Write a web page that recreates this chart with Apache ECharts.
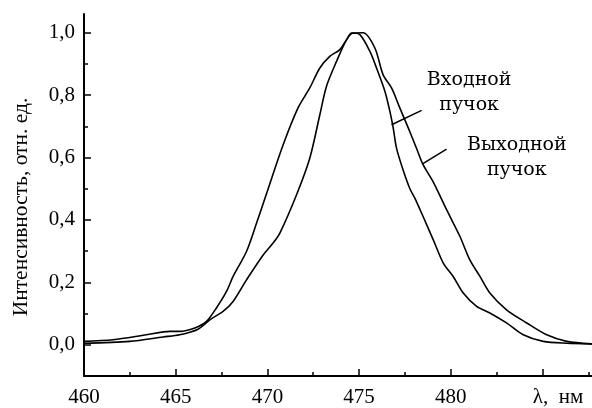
<!DOCTYPE html>
<html>
<head>
<meta charset="utf-8">
<script src="https://cdn.jsdelivr.net/npm/echarts@6/dist/echarts.min.js"></script>
<style>html,body{margin:0;padding:0;background:#fff}#c{width:592px;height:408px}</style>
</head>
<body>
<div id="c"></div>
<script>
// Входной пучок (input beam)
const xIn = [460, 461.58, 463.40, 464.68, 465.22, 466.04, 466.68, 467.22, 467.77, 468.13, 468.86, 469.41, 469.95, 470.86, 471.67, 472.31, 472.86, 473.40, 473.95, 474.32, 474.59, 475.04, 475.59, 475.95, 476.41, 476.68, 476.86, 477.04, 477.40, 477.77, 478.04, 478.49, 479.04, 479.59, 480.13, 480.68, 481.41, 482.13, 483.04, 483.95, 485.04, 486.32, 487.70];
const yIn = [0.011, 0.016, 0.032, 0.043, 0.043, 0.054, 0.075, 0.118, 0.171, 0.219, 0.299, 0.390, 0.484, 0.641, 0.759, 0.823, 0.887, 0.924, 0.946, 0.978, 0.999, 0.994, 0.940, 0.887, 0.812, 0.748, 0.695, 0.630, 0.560, 0.500, 0.470, 0.411, 0.337, 0.262, 0.219, 0.166, 0.123, 0.102, 0.070, 0.032, 0.011, 0.005, 0.003];
// Выходной пучок (output beam)
const xOut = [460, 462.49, 464.31, 465.22, 466.22, 466.86, 467.58, 468.13, 468.86, 469.77, 470.31, 470.68, 471.59, 472.31, 472.86, 473.22, 473.77, 474.32, 474.68, 475.22, 475.86, 476.31, 476.77, 477.22, 477.68, 478.13, 478.49, 479.04, 479.77, 480.50, 481.04, 481.59, 482.13, 483.04, 484.14, 485.23, 486.32, 487.70];
const yOut = [0.005, 0.011, 0.025, 0.032, 0.050, 0.080, 0.107, 0.139, 0.208, 0.288, 0.326, 0.358, 0.481, 0.598, 0.737, 0.828, 0.908, 0.978, 0.999, 1.000, 0.951, 0.865, 0.823, 0.759, 0.695, 0.630, 0.577, 0.522, 0.433, 0.347, 0.272, 0.219, 0.166, 0.112, 0.070, 0.032, 0.011, 0.003];

const xMinorTicks = [462.5, 467.5, 472.5, 477.5, 482.5, 487.5];
const yMajorTicks = [0, 0.2, 0.4, 0.6, 0.8, 1.0];
const yMinorTicks = [0.1, 0.3, 0.5, 0.7, 0.9];
const xUnitLabel = 'λ,  нм';
const yAxisTitle = 'Интенсивность, отн. ед.';
const labelIn = ['Входной', 'пучок'];
const labelOut = ['Выходной', 'пучок'];
// annotation anchors (data coords)
const labelInPos = [481.0, 0.809];
const labelOutPos = [483.6, 0.601];
const leaderIn = [[478.41, 0.751], [476.77, 0.705]];
const leaderOut = [[479.77, 0.627], [478.46, 0.580]];

const FONT = 'Liberation Serif';
const FS = 21;
const AFONT = 'DejaVu Serif';
const AFS = 19;
const zip = (a, b) => a.map((v, i) => [v, b[i]]);

const chart = echarts.init(document.getElementById('c'), null, {renderer: 'canvas'});
const X_MIN = 460, X_MAX = 487.7, Y_MIN = -0.1, Y_MAX = 1.06;

chart.setOption({
  animation: false,
  backgroundColor: '#fff',
  grid: {left: 84, right: 0, top: 14, bottom: 32, containLabel: false},
  xAxis: [{
    type: 'value', min: X_MIN, max: X_MAX, interval: 5, position: 'bottom',
    axisLine: {show: true, onZero: false, lineStyle: {color: '#000', width: 2}},
    axisTick: {show: true, inside: true, length: 7, lineStyle: {color: '#000', width: 1.5}},
    axisLabel: {
      show: true, margin: 11, color: '#000', fontFamily: FONT, fontSize: FS,
      showMaxLabel: false,
      formatter: v => (Math.abs(v - 485) < 1e-6 ? '{u|' + xUnitLabel + '}' : (Math.abs(v - Math.round(v)) < 1e-6 ? String(Math.round(v)) : '')),
      rich: {u: {fontFamily: FONT, fontSize: FS, color: '#000', padding: [0, 0, 0, 31]}}
    },
    splitLine: {show: false}
  }, {
    type: 'value', min: X_MIN, max: X_MAX, position: 'bottom',
    axisLine: {show: false, onZero: false},
    axisTick: {show: true, inside: true, length: 4, lineStyle: {color: '#000', width: 1.5}, customValues: xMinorTicks},
    axisLabel: {show: false},
    splitLine: {show: false}
  }],
  yAxis: [{
    type: 'value', min: Y_MIN, max: Y_MAX, position: 'left',
    name: yAxisTitle, nameLocation: 'middle', nameGap: 52, nameRotate: 90,
    nameTextStyle: {fontFamily: FONT, fontSize: 21.5, color: '#000', padding: [0, 24, 0, 0]},
    axisLine: {show: true, onZero: false, lineStyle: {color: '#000', width: 2}},
    axisTick: {show: true, inside: true, length: 7, lineStyle: {color: '#000', width: 1.5}, customValues: yMajorTicks},
    axisLabel: {
      show: true, margin: 9, color: '#000', fontFamily: FONT, fontSize: FS,
      customValues: yMajorTicks,
      formatter: v => v.toFixed(1).replace('.', ',')
    },
    splitLine: {show: false}
  }, {
    type: 'value', min: Y_MIN, max: Y_MAX, position: 'left',
    axisLine: {show: false, onZero: false},
    axisTick: {show: true, inside: true, length: 4, lineStyle: {color: '#000', width: 1.5}, customValues: yMinorTicks},
    axisLabel: {show: false},
    splitLine: {show: false}
  }],
  series: [{
    name: labelIn.join(' '), type: 'line', data: zip(xIn, yIn), showSymbol: false, smooth: 0.3,
    lineStyle: {color: '#000', width: 1.6},
    markLine: {
      silent: true, symbol: ['none', 'none'], label: {show: false},
      lineStyle: {color: '#000', width: 1.5, type: 'solid'},
      data: [[{coord: leaderIn[0]}, {coord: leaderIn[1]}]]
    },
    markPoint: {
      silent: true, symbol: 'circle', symbolSize: 0,
      label: {show: true, position: 'inside', fontFamily: AFONT, fontSize: AFS, color: '#000', lineHeight: 25, align: 'center',
        formatter: labelIn.join('\n')},
      data: [{coord: labelInPos}]
    }
  }, {
    name: labelOut.join(' '), type: 'line', data: zip(xOut, yOut), showSymbol: false, smooth: 0.3,
    lineStyle: {color: '#000', width: 1.6},
    markLine: {
      silent: true, symbol: ['none', 'none'], label: {show: false},
      lineStyle: {color: '#000', width: 1.5, type: 'solid'},
      data: [[{coord: leaderOut[0]}, {coord: leaderOut[1]}]]
    },
    markPoint: {
      silent: true, symbol: 'circle', symbolSize: 0,
      label: {show: true, position: 'inside', fontFamily: AFONT, fontSize: AFS, color: '#000', lineHeight: 25, align: 'center',
        formatter: labelOut.join('\n')},
      data: [{coord: labelOutPos}]
    }
  }]
});
</script>
</body>
</html>
